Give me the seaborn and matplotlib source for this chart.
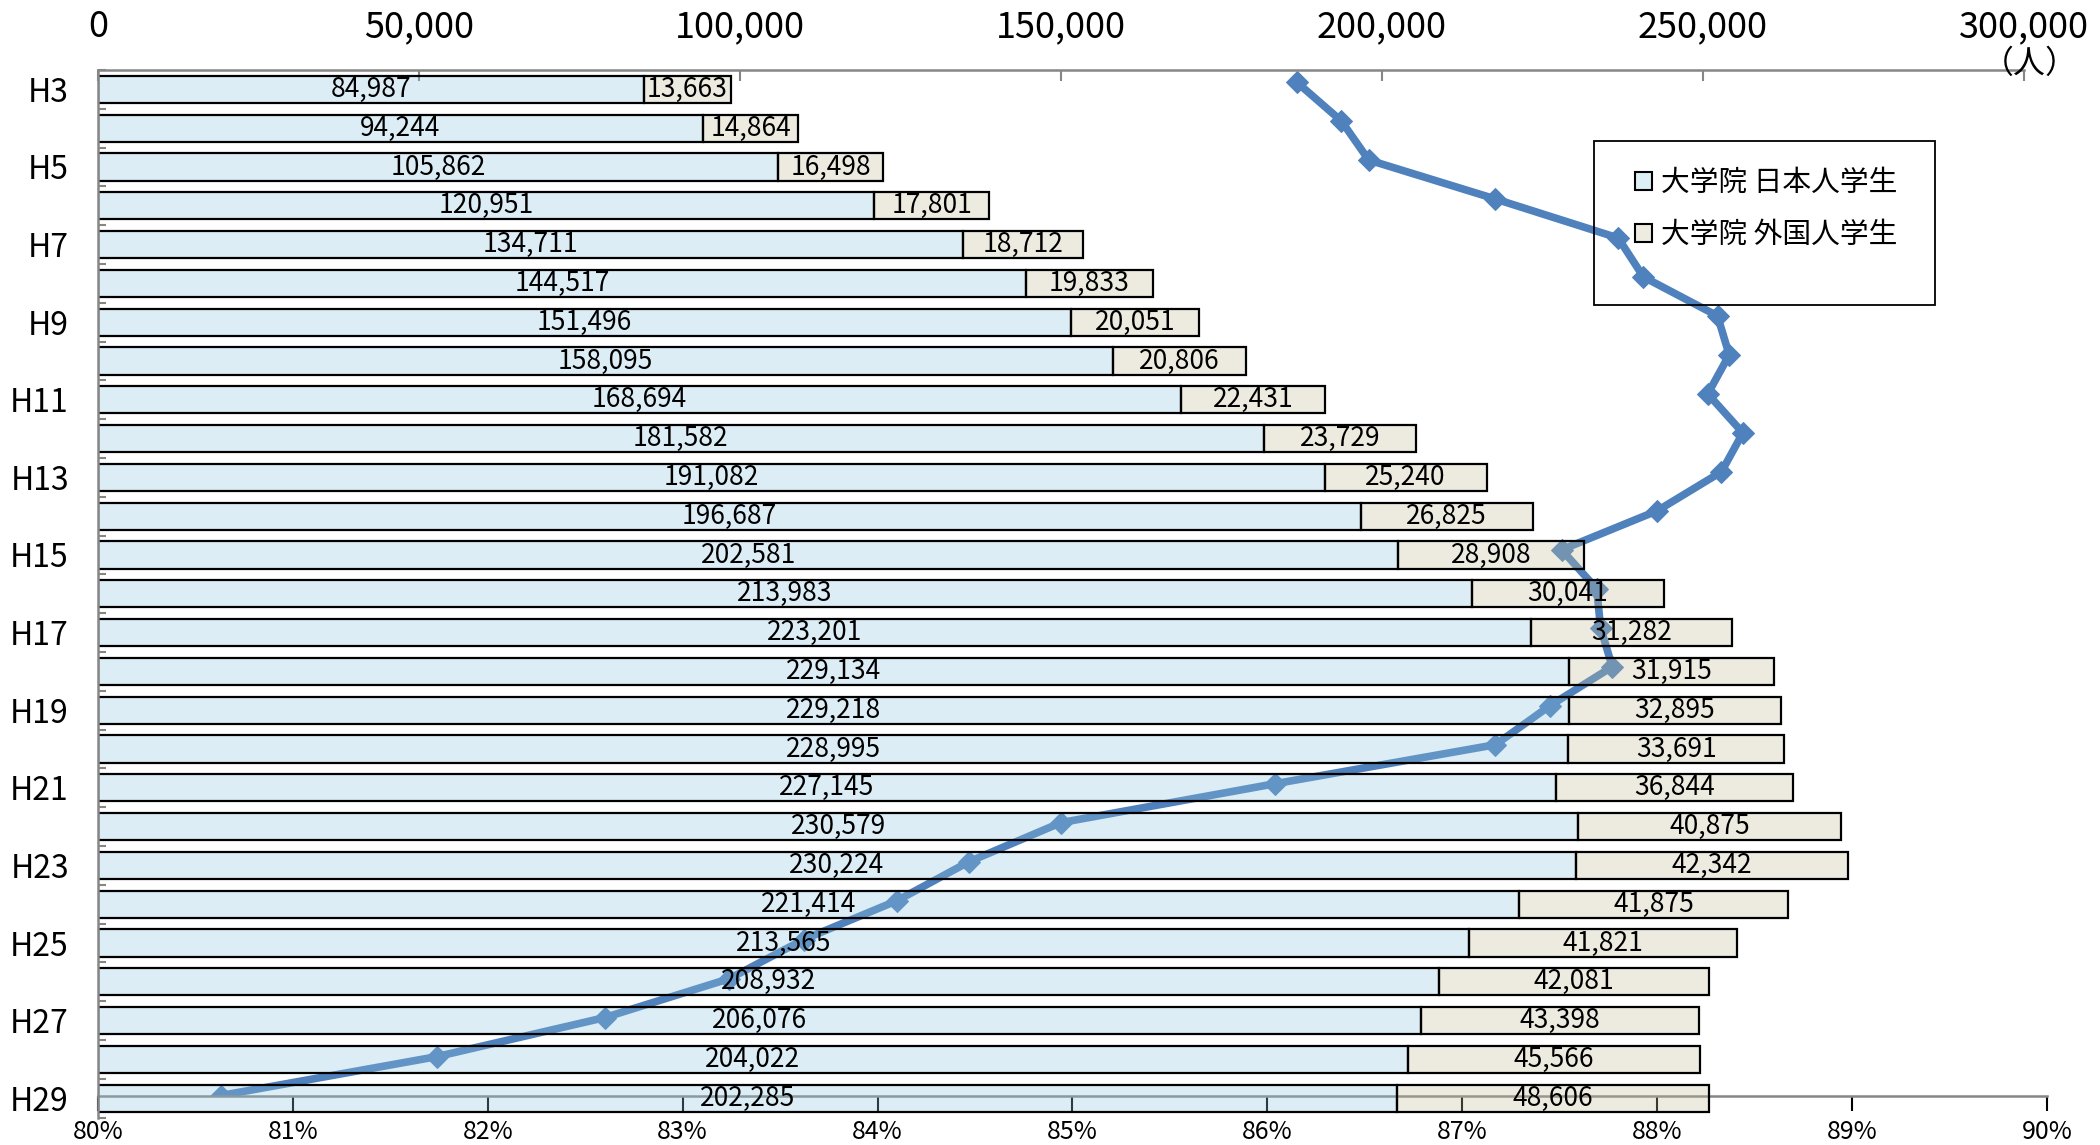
import matplotlib
matplotlib.use('Agg')
import matplotlib.pyplot as plt
from matplotlib.patches import Patch, Rectangle
from matplotlib.ticker import FixedLocator, FuncFormatter
import numpy as np
import seaborn as sns

years = [f'H{n}' for n in range(3, 30)]
japanese = [84987, 94244, 105862, 120951, 134711, 144517, 151496, 158095, 168694,
            181582, 191082, 196687, 202581, 213983, 223201, 229134, 229218, 228995,
            227145, 230579, 230224, 221414, 213565, 208932, 206076, 204022, 202285]
foreign = [13663, 14864, 16498, 17801, 18712, 19833, 20051, 20806, 22431,
           23729, 25240, 26825, 28908, 30041, 31282, 31915, 32895, 33691,
           36844, 40875, 42342, 41875, 41821, 42081, 43398, 45566, 48606]
# share of Japanese students (%)
japanese_share = [86.15, 86.38, 86.52, 87.17, 87.80, 87.93, 88.31, 88.37, 88.26,
                  88.44, 88.33, 88.00, 87.51, 87.69, 87.71, 87.77, 87.45, 87.17,
                  86.04, 84.94, 84.47, 84.10, 83.62, 83.24, 82.60, 81.74, 80.63]
legend_labels = ['大学院 日本人学生', '大学院 外国人学生']

sns.set_theme(style='white', rc={'text.color': 'black', 'xtick.color': 'black',
                                 'ytick.color': 'black', 'axes.labelcolor': 'black'})
plt.rcParams['font.family'] = ['Noto Sans CJK JP', 'DejaVu Sans']

line_color = '#4F81BD'
spine_color = '#868686'
# translucent fills so the line shows through the bars
jp_face = (142 / 255, 198 / 255, 222 / 255, 0.3)
fg_face = (198 / 255, 192 / 255, 155 / 255, 0.3)

fig = plt.figure(figsize=(21, 11.45), dpi=100)
ax_line = fig.add_axes([0.0467, 0.0432, 0.928, 0.8957])
ax_bar = fig.add_axes([0.0467, 0.0239, 0.917, 0.9150])
ax_bar.patch.set_visible(False)

# ratio line (behind the bars)
sns.lineplot(x=japanese_share, y=np.arange(len(years)), sort=False, estimator=None,
             color=line_color, lw=5.5, marker='D', markersize=11.5,
             markeredgecolor=line_color, ax=ax_line)
ax_line.set_xlim(80, 90)
ax_line.set_ylim(26, -0.31)
ax_line.xaxis.set_major_locator(FixedLocator(range(80, 91)))
ax_line.xaxis.set_major_formatter(FuncFormatter(lambda v, p: f'{v:.0f}%'))
ax_line.tick_params(axis='x', bottom=True, direction='out', length=11, width=1.5,
                    color='black', labelsize=18, pad=6)
ax_line.set_yticks([])
ax_line.set_xlabel('')
ax_line.set_ylabel('')
for side in ['top', 'left', 'right']:
    ax_line.spines[side].set_visible(False)
ax_line.spines['bottom'].set_color(spine_color)
ax_line.spines['bottom'].set_linewidth(1.8)

# stacked bars
sns.barplot(x=japanese, y=years, orient='h', color='#DDEEF5', saturation=1,
            width=0.7, edgecolor='black', linewidth=1.6, ax=ax_bar)
for p in ax_bar.patches:
    p.set_facecolor(jp_face)
ax_bar.barh(np.arange(len(years)), foreign, left=japanese, height=0.7,
            color=fg_face, edgecolor='black', linewidth=1.6)

ax_bar.bar_label(ax_bar.containers[0], labels=[f'{v:,}' for v in japanese],
                 label_type='center', fontsize=19)
ax_bar.bar_label(ax_bar.containers[1], labels=[f'{v:,}' for v in foreign],
                 label_type='center', fontsize=19)

ax_bar.set_xlim(0, 300000)
ax_bar.set_ylim(26.5, -0.5)
ax_bar.xaxis.tick_top()
ax_bar.xaxis.set_major_locator(FixedLocator(range(0, 300001, 50000)))
ax_bar.xaxis.set_major_formatter(FuncFormatter(lambda v, p: f'{v:,.0f}'))
ax_bar.tick_params(axis='x', top=True, bottom=False, direction='in', length=8,
                   width=1.5, color=spine_color, labelsize=26, pad=18)
ax_bar.set_yticks(range(0, len(years), 2))
ax_bar.set_yticklabels(years[::2])
ax_bar.yaxis.set_minor_locator(FixedLocator(np.arange(-0.5, len(years), 1)))
ax_bar.tick_params(axis='y', which='major', left=False, labelsize=23, pad=15)
ax_bar.tick_params(axis='y', which='minor', left=True, direction='in', length=6,
                   width=1.5, color=spine_color)
ax_bar.set_xlabel('')
ax_bar.set_ylabel('')
for side in ['bottom', 'right']:
    ax_bar.spines[side].set_visible(False)
for side in ['top', 'left']:
    ax_bar.spines[side].set_color(spine_color)
    ax_bar.spines[side].set_linewidth(1.8)

fig.text(0.9664, 0.944, '（人）', fontsize=23, ha='center', va='center')

# legend
handles = [Patch(facecolor='#DDEEF5', edgecolor='black', lw=1.5),
           Patch(facecolor='#EEECE1', edgecolor='black', lw=1.5)]
fig.legend(handles, legend_labels, loc='upper left', bbox_to_anchor=(0.7786, 0.853),
           frameon=False, borderpad=0, borderaxespad=0, handlelength=0.6,
           handleheight=0.6, handletextpad=0.3, labelspacing=0.75,
           prop={'size': 20.7})
fig.add_artist(Rectangle((0.759, 0.7333), 0.1626, 0.1439, transform=fig.transFigure,
                         fill=False, edgecolor='black', lw=1.3))

fig.savefig('out.png', dpi=100)
